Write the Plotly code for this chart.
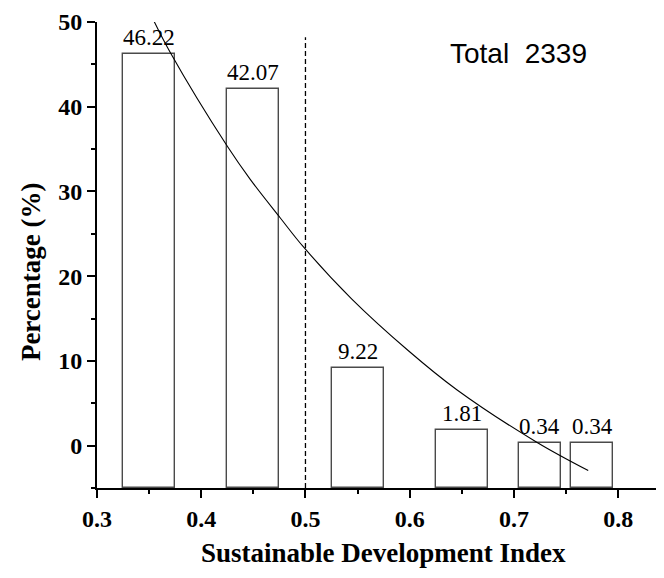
import plotly.graph_objects as go

# ---- data ----
bar_x = [0.35, 0.45, 0.55, 0.65, 0.725, 0.775]
bar_width = [0.05, 0.05, 0.05, 0.05, 0.04, 0.04]
bar_pct = [46.22, 42.07, 9.22, 1.81, 0.34, 0.34]
bar_labels = ["46.22", "42.07", "9.22", "1.81", "0.34", "0.34"]

curve_x = [0.3527, 0.3703, 0.4252, 0.4472, 0.4757, 0.4981,
           0.5445, 0.5988, 0.6452, 0.7219, 0.7713]
curve_y = [50.6, 46.4, 35.3, 31.4, 26.9, 23.45,
           17.3, 11.2, 6.6, 0.4, -2.94]

x_ticks = [0.3, 0.4, 0.5, 0.6, 0.7, 0.8]
y_ticks = [0, 10, 20, 30, 40, 50]
x_range = [0.3, 0.844]
y_range = [-5, 50]
threshold_x = 0.5
threshold_top = 48.2
total_text = "Total  2339"
x_title = "Sustainable Development Index"
y_title = "Percentage (%)"

serif = "Times New Roman, Liberation Serif, serif"
sans = "Arial, Liberation Sans, sans-serif"

base = y_range[0]
heights = [v - base for v in bar_pct]

fig = go.Figure()
fig.add_trace(go.Bar(
    x=bar_x, y=heights, base=base, width=bar_width,
    marker=dict(color="white", line=dict(color="#4a4a4a", width=1.4)),
    hoverinfo="skip", showlegend=False,
))
fig.add_trace(go.Scatter(
    x=curve_x, y=curve_y, mode="lines",
    line=dict(color="black", width=1.1, shape="spline", smoothing=1.0),
    showlegend=False, hoverinfo="skip",
))

fig.add_shape(type="line", xref="x", yref="y",
              x0=threshold_x, x1=threshold_x, y0=y_range[0], y1=threshold_top,
              line=dict(color="black", width=1.3, dash="5px,3px"))

annotations = []
for xv, yv, lab in zip(bar_x, bar_pct, bar_labels):
    annotations.append(dict(x=xv, y=yv, xref="x", yref="y", text=lab,
                            showarrow=False, yanchor="bottom", yshift=2,
                            font=dict(family=serif, size=23, color="black")))
annotations.append(dict(x=0.704, y=46.3, xref="x", yref="y", text=total_text,
                        showarrow=False, xanchor="center", yanchor="middle",
                        font=dict(family=sans, size=28, color="black")))
annotations.append(dict(x=0.506, y=-0.139, xref="paper", yref="paper", text=x_title,
                        showarrow=False, xanchor="center", yanchor="middle",
                        font=dict(family=serif, size=27, color="black", weight="bold")))
annotations.append(dict(x=-0.115, y=0.465, xref="paper", yref="paper", text=y_title,
                        showarrow=False, xanchor="center", yanchor="middle", textangle=-90,
                        font=dict(family=serif, size=27, color="black", weight="bold")))

# the page body adds an 8px margin, so the figure is sized/offset to compensate
fig.update_layout(
    width=656, height=570,
    margin=dict(l=89, r=0, t=14, b=90, autoexpand=False),
    paper_bgcolor="white", plot_bgcolor="white",
    annotations=annotations,
    bargap=0,
)
fig.update_xaxes(
    range=x_range, tickvals=x_ticks, ticktext=[f"{v:.1f}" for v in x_ticks],
    showline=True, linecolor="black", linewidth=2,
    ticks="outside", ticklen=8, tickwidth=2, tickcolor="black",
    minor=dict(dtick=0.05, tick0=0.3, ticks="outside", ticklen=4, tickwidth=2, tickcolor="black"),
    showgrid=False, zeroline=False, automargin=False,
    tickfont=dict(family=serif, size=24, color="black", weight="bold"),
)
fig.update_yaxes(
    range=y_range, tickvals=y_ticks,
    showline=True, linecolor="black", linewidth=2,
    ticks="outside", ticklen=8, tickwidth=2, tickcolor="black",
    minor=dict(dtick=5, tick0=0, ticks="outside", ticklen=4, tickwidth=2, tickcolor="black"),
    showgrid=False, zeroline=False, automargin=False,
    tickfont=dict(family=serif, size=24, color="black", weight="bold"),
)

fig.write_html("out.html")
